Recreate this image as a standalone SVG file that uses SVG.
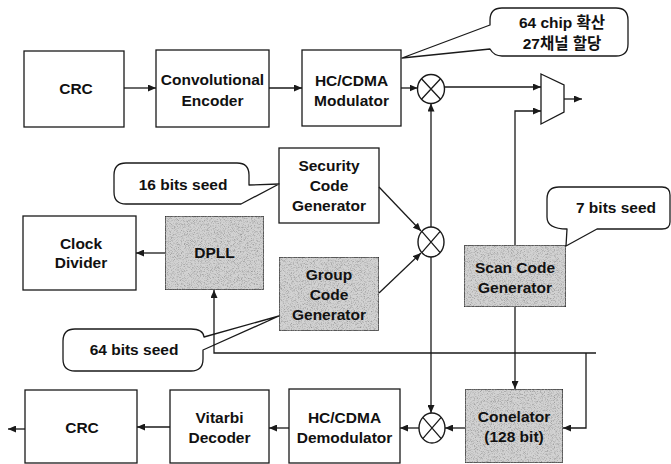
<svg xmlns="http://www.w3.org/2000/svg" width="671" height="464" viewBox="0 0 671 464">
  <defs>
    <style>
      .box { fill: #ffffff; stroke: #1a1a1a; stroke-width: 1.3; }
      .shade { fill: #d2d2d2; stroke: #1a1a1a; stroke-width: 1.3; filter: url(#grain); }
      .wire { fill: none; stroke: #1a1a1a; stroke-width: 1.3; }
      .arrow { fill: none; stroke: #1a1a1a; stroke-width: 1.3; marker-end: url(#head); }
      .bubble { fill: #ffffff; stroke: #1a1a1a; stroke-width: 1.3; stroke-linejoin: round; }
      .mult { fill: #ffffff; stroke: #1a1a1a; stroke-width: 1.4; }
      .lbl { font-family: "Liberation Sans", Arial, "Noto Sans CJK KR", sans-serif; font-weight: bold; font-size: 15.5px; fill: #111111; text-anchor: middle; }
    </style>
    <marker id="head" markerWidth="8" markerHeight="7" refX="8" refY="3.5" orient="auto" markerUnits="userSpaceOnUse">
      <path d="M0,0 L8,3.5 L0,7 Z" fill="#1a1a1a"/>
    </marker>
    <!-- fine speckled halftone texture for the shaded blocks -->
    <filter id="grain" x="0" y="0" width="100%" height="100%">
      <feTurbulence type="fractalNoise" baseFrequency="1.3" numOctaves="1" seed="7" result="noise"/>
      <feColorMatrix in="noise" type="matrix" values="0 0 0 0 0.3  0 0 0 0 0.3  0 0 0 0 0.3  2.9 0 0 0 -1.35" result="dots"/>
      <feComposite in="dots" in2="SourceGraphic" operator="in" result="clipped"/>
      <feMerge>
        <feMergeNode in="SourceGraphic"/>
        <feMergeNode in="clipped"/>
      </feMerge>
    </filter>
  </defs>

  <rect width="671" height="464" fill="#ffffff"/>

  <!-- transmit chain -->
  <g id="crc-tx">
    <rect class="box" x="24" y="51" width="100" height="76"/>
    <text class="lbl" x="76" y="94">CRC</text>
  </g>
  <g id="conv-encoder">
    <rect class="box" x="156" y="50" width="113" height="77"/>
    <text class="lbl" x="212.5" y="85">Convolutional</text>
    <text class="lbl" x="212.5" y="106">Encoder</text>
  </g>
  <g id="hc-modulator">
    <rect class="box" x="302" y="50" width="99" height="76"/>
    <text class="lbl" x="351.5" y="86">HC/CDMA</text>
    <text class="lbl" x="351.5" y="106">Modulator</text>
  </g>
  <g id="mult-tx">
    <ellipse class="mult" cx="431" cy="89" rx="13.5" ry="14.5"/>
    <path class="wire" d="M421.5,78.7 L440.5,99.3 M440.5,78.7 L421.5,99.3"/>
  </g>
  <g id="mux">
    <path class="wire" d="M541,74 L564,85 L564,112 L541,124 Z"/>
  </g>

  <!-- code generators -->
  <g id="security-gen">
    <rect class="box" x="279" y="148" width="100" height="75"/>
    <text class="lbl" x="329" y="171">Security</text>
    <text class="lbl" x="329" y="191">Code</text>
    <text class="lbl" x="329" y="211">Generator</text>
  </g>
  <g id="group-gen">
    <rect class="shade" x="279" y="257" width="100" height="74"/>
    <text class="lbl" x="329" y="280">Group</text>
    <text class="lbl" x="329" y="300">Code</text>
    <text class="lbl" x="329" y="320">Generator</text>
  </g>
  <g id="mult-code">
    <ellipse class="mult" cx="431" cy="242" rx="13" ry="15"/>
    <path class="wire" d="M421.8,231.4 L440.2,252.6 M440.2,231.4 L421.8,252.6"/>
  </g>
  <g id="scan-gen">
    <rect class="shade" x="464" y="245" width="102" height="62"/>
    <text class="lbl" x="515" y="273">Scan Code</text>
    <text class="lbl" x="515" y="293">Generator</text>
  </g>

  <!-- timing -->
  <g id="clock-divider">
    <rect class="box" x="23" y="216" width="113" height="74"/>
    <text class="lbl" x="81" y="249">Clock</text>
    <text class="lbl" x="81" y="268">Divider</text>
  </g>
  <g id="dpll">
    <rect class="shade" x="165" y="216" width="99" height="74"/>
    <text class="lbl" x="214.5" y="258">DPLL</text>
  </g>

  <!-- receive chain -->
  <g id="crc-rx">
    <rect class="box" x="25" y="390" width="112" height="73"/>
    <text class="lbl" x="82" y="433">CRC</text>
  </g>
  <g id="viterbi-decoder">
    <rect class="box" x="170" y="390" width="99" height="73"/>
    <text class="lbl" x="219.5" y="423">Vitarbi</text>
    <text class="lbl" x="219.5" y="443">Decoder</text>
  </g>
  <g id="hc-demodulator">
    <rect class="box" x="289" y="389" width="111" height="74"/>
    <text class="lbl" x="344.5" y="423">HC/CDMA</text>
    <text class="lbl" x="344.5" y="443">Demodulator</text>
  </g>
  <g id="mult-rx">
    <ellipse class="mult" cx="432" cy="428" rx="13" ry="15"/>
    <path class="wire" d="M422.8,417.4 L441.2,438.6 M441.2,417.4 L422.8,438.6"/>
  </g>
  <g id="correlator">
    <rect class="shade" x="465" y="389" width="98" height="74"/>
    <text class="lbl" x="514" y="422">Conelator</text>
    <text class="lbl" x="514" y="442">(128 bit)</text>
  </g>

  <!-- callouts -->
  <g id="note-spread">
    <path class="bubble" d="M502,8 H616 Q628,8 628,20 V44 Q628,56 616,56 H502 Q494,56 490,49 L402,58 L490,25 V20 Q490,8 502,8 Z"/>
    <text class="lbl" x="562" y="28">64 chip 확산</text>
    <text class="lbl" x="562" y="49">27채널 할당</text>
  </g>
  <g id="note-16">
    <path class="bubble" d="M126,163 H237 Q249,163 249,175 V185 L279,184 L241,204 H126 Q114,204 114,192 V175 Q114,163 126,163 Z"/>
    <text class="lbl" x="183" y="190">16 bits seed</text>
  </g>
  <g id="note-64">
    <path class="bubble" d="M75,329 H191 Q203,329 204,337 L279,316 L203,350 V359 Q203,371 191,371 H75 Q63,371 63,359 V341 Q63,329 75,329 Z"/>
    <text class="lbl" x="134" y="355">64 bits seed</text>
  </g>
  <g id="note-7">
    <path class="bubble" d="M559,187 H662 Q670,187 670,195 V222 Q670,229 662,229 H597 L566,246 L567,229 Q547,229 547,217 V199 Q547,187 559,187 Z"/>
    <text class="lbl" x="616" y="213">7 bits seed</text>
  </g>

  <!-- connectors -->
  <g id="connectors">
    <path class="arrow" d="M124,88 H156"/>
    <path class="arrow" d="M269,88 H302"/>
    <path class="arrow" d="M401,88 H417.5"/>
    <path class="arrow" d="M444.5,87 H541"/>
    <path class="arrow" d="M564,99 H582"/>
    <path class="arrow" d="M515,245 V111 H541"/>
    <path class="arrow" d="M431,227 V103.5"/>
    <path class="arrow" d="M431,257 V413"/>
    <path class="arrow" d="M379,187 L421,231"/>
    <path class="arrow" d="M379,293 L421,253"/>
    <path class="arrow" d="M165,253 H136"/>
    <path class="arrow" d="M596,353 H214 V290"/>
    <path class="arrow" d="M586,353 V428 H563"/>
    <path class="arrow" d="M515,307 V389"/>
    <path class="arrow" d="M465,428 H445"/>
    <path class="arrow" d="M419,428 H400"/>
    <path class="arrow" d="M289,428 H269"/>
    <path class="arrow" d="M170,427 H137"/>
    <path class="arrow" d="M25,429 H8"/>
  </g>
</svg>
